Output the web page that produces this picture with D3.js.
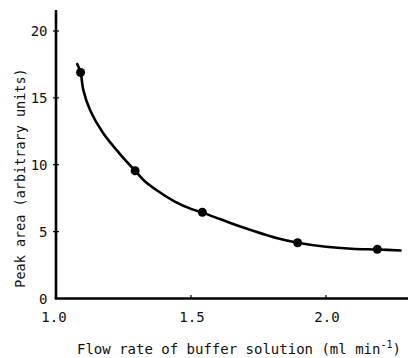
<!DOCTYPE html>
<html>
<head>
<meta charset="utf-8">
<script src="https://cdn.jsdelivr.net/npm/d3@7"></script>
<style>
  html, body { margin: 0; padding: 0; background: #fff; }
  svg { display: block; }
  text { font-family: "DejaVu Sans Mono", "Liberation Mono", monospace; fill: #111; }
</style>
</head>
<body>
<div id="chart"></div>
<script>
// measured points (flow rate vs peak area)
const flowRate = [1.091, 1.293, 1.542, 1.895, 2.19]
const peakArea = [16.9, 9.55, 6.45, 4.17, 3.68]

// hand drawn fitted curve
const curveX = [1.077, 1.091, 1.101, 1.126, 1.175, 1.237, 1.293, 1.33, 1.38, 1.44, 1.50, 1.542, 1.61, 1.68, 1.82, 1.895, 2.00, 2.095, 2.19, 2.28]
const curveY = [17.6, 16.9, 15.6, 14.1, 12.35, 10.8, 9.55, 8.75, 8.0, 7.25, 6.7, 6.42, 5.92, 5.4, 4.5, 4.17, 3.87, 3.72, 3.66, 3.59]

const xTicks = [1.0, 1.5, 2.0]
const yTicks = [0, 5, 10, 15, 20]

function drawChart() {
	const svgWidth = 410
	const svgHeight = 358

	const svg = d3
		.select('#chart')
		.append('svg')
		.attr('width', svgWidth)
		.attr('height', svgHeight)

	const x = d3.scaleLinear().domain([1.0, 2.0]).range([56, 326])
	const y = d3.scaleLinear().domain([0, 20]).range([298.5, 31])

	const xMax = x.invert(408)
	const yMax = y.invert(10)

	// axes lines
	svg
		.append('line')
		.attr('x1', x(1.0))
		.attr('x2', x(1.0))
		.attr('y1', y(yMax))
		.attr('y2', y(0))
		.attr('stroke', '#000')
		.attr('stroke-width', 2.6)

	svg
		.append('line')
		.attr('x1', x(1.0) - 1.3)
		.attr('x2', x(xMax))
		.attr('y1', y(0))
		.attr('y2', y(0))
		.attr('stroke', '#000')
		.attr('stroke-width', 2.6)

	// y ticks
	svg
		.selectAll('.ytick')
		.data(yTicks.filter((d) => d > 0))
		.enter()
		.append('line')
		.attr('class', 'ytick')
		.attr('x1', x(1.0) - 3)
		.attr('x2', x(1.0) + 3)
		.attr('y1', (d) => y(d))
		.attr('y2', (d) => y(d))
		.attr('stroke', '#000')
		.attr('stroke-width', 1.2)

	svg
		.selectAll('.ylabel')
		.data(yTicks)
		.enter()
		.append('text')
		.attr('class', 'ylabel')
		.attr('x', 47.5)
		.attr('y', (d) => y(d))
		.attr('dy', '0.38em')
		.attr('text-anchor', 'end')
		.style('font-size', '14px')
		.text((d) => d)

	// x ticks
	svg
		.selectAll('.xtick')
		.data(xTicks.filter((d) => d > 1.0))
		.enter()
		.append('line')
		.attr('class', 'xtick')
		.attr('x1', (d) => x(d))
		.attr('x2', (d) => x(d))
		.attr('y1', y(0) - 3.5)
		.attr('y2', y(0))
		.attr('stroke', '#000')
		.attr('stroke-width', 1.2)

	svg
		.selectAll('.xlabel')
		.data(xTicks)
		.enter()
		.append('text')
		.attr('class', 'xlabel')
		.attr('x', (d) => x(d) + (d === 1.0 ? -2 : 1))
		.attr('y', 321.5)
		.attr('text-anchor', 'middle')
		.style('font-size', '14px')
		.text((d) => d.toFixed(1))

	// axis titles
	const xt = svg
		.append('text')
		.attr('x', 77)
		.attr('y', 354)
		.style('font-size', '14px')
	xt.append('tspan').text('Flow rate of buffer solution (ml min')
	xt.append('tspan').attr('dy', -6).style('font-size', '10px').text('-1')
	xt.append('tspan').attr('dy', 6).text(')')

	svg
		.append('text')
		.attr('transform', 'translate(25,178) rotate(-90)')
		.attr('text-anchor', 'middle')
		.style('font-size', '13.5px')
		.text('Peak area (arbitrary units)')

	// fitted curve
	const line = d3
		.line()
		.x((d) => x(d[0]))
		.y((d) => y(d[1]))
		.curve(d3.curveCatmullRom.alpha(0.5))

	svg
		.append('path')
		.datum(curveX.map((v, i) => [v, curveY[i]]))
		.attr('fill', 'none')
		.attr('stroke', '#000')
		.attr('stroke-width', 2.6)
		.attr('d', line)

	// data points
	svg
		.selectAll('.dot')
		.data(flowRate.map((v, i) => [v, peakArea[i]]))
		.enter()
		.append('circle')
		.attr('class', 'dot')
		.attr('cx', (d) => x(d[0]))
		.attr('cy', (d) => y(d[1]))
		.attr('r', 4.5)
		.attr('fill', '#000')
}

drawChart()
</script>
</body>
</html>
